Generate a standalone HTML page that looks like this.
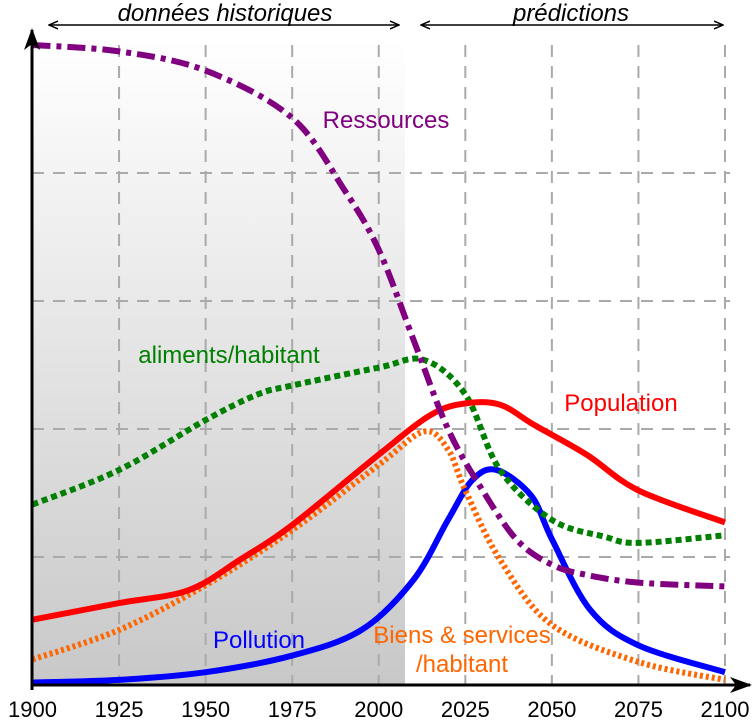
<!DOCTYPE html>
<html><head><meta charset="utf-8"><style>
html,body{margin:0;padding:0;background:#fff}
svg{display:block;font-family:"Liberation Sans",sans-serif}
</style></head><body>
<svg id="chart" width="754" height="723" viewBox="0 0 754 723">
<defs>
<linearGradient id="hist" x1="0" y1="0" x2="0" y2="1">
<stop offset="0" stop-color="#fff"/><stop offset="1" stop-color="#c8c8c8"/>
</linearGradient>
<marker id="ah" markerWidth="10" markerHeight="10" refX="8" refY="5" orient="auto-start-reverse" markerUnits="userSpaceOnUse">
<path d="M0,1 L9,5 L0,9" fill="none" stroke="#000" stroke-width="1.5"/></marker>
<marker id="axh" markerWidth="24" markerHeight="20" refX="20" refY="10" orient="auto" markerUnits="userSpaceOnUse">
<path d="M0,2 L22,10 L0,18 L6,10 Z" fill="#000"/></marker>
</defs>
<rect x="32" y="40" width="373" height="645" fill="url(#hist)"/>
<g id="grid"></g>
<g id="series"></g>
<line x1="32" y1="685" x2="750" y2="685" stroke="#000" stroke-width="3" marker-end="url(#axh)"/>
<line x1="32" y1="690" x2="32" y2="30" stroke="#000" stroke-width="3" marker-end="url(#axh)"/>
<g id="ticks" font-size="22" text-anchor="middle"></g>
<line x1="50" y1="25" x2="398" y2="25" stroke="#000" stroke-width="1.5" marker-start="url(#ah)" marker-end="url(#ah)"/>
<line x1="422" y1="25" x2="722" y2="25" stroke="#000" stroke-width="1.5" marker-start="url(#ah)" marker-end="url(#ah)"/>
<text x="225" y="21" font-size="24" font-style="italic" text-anchor="middle">données historiques</text>
<text x="571" y="21" font-size="24" font-style="italic" text-anchor="middle">prédictions</text>
<text x="386" y="128" font-size="24" fill="#800080" text-anchor="middle">Ressources</text>
<text x="229" y="363" font-size="24" fill="#008000" text-anchor="middle">aliments/habitant</text>
<text x="621" y="411" font-size="24" fill="#ff0000" text-anchor="middle">Population</text>
<text x="259" y="648" font-size="24" fill="#0000ff" text-anchor="middle">Pollution</text>
<text x="462" y="643" font-size="24" fill="#ff6600" text-anchor="middle">Biens &amp; services</text>
<text x="462" y="672" font-size="24" fill="#ff6600" text-anchor="middle">/habitant</text>
</svg>
<script>
const years=[1900,1925,1950,1975,2000,2025,2050,2075,2100];
const resYears=[1900,1925,1950,1975,1990,2000,2010,2020,2030,2040,2050,2060,2075,2100];
const resVals=[5.0,4.95,4.8,4.43,3.87,3.4,2.7,2.0,1.52,1.13,0.94,0.86,0.8,0.77];
const foodYears=[1900,1925,1950,1965,1975,2000,2013,2025,2035,2050,2065,2075,2100];
const foodVals=[1.41,1.68,2.07,2.27,2.34,2.48,2.54,2.27,1.68,1.29,1.16,1.11,1.17];
const popYears=[1900,1925,1945,1960,1975,2000,2015,2025,2035,2045,2060,2075,2100];
const popVals=[0.51,0.64,0.74,0.98,1.25,1.8,2.11,2.2,2.19,2.03,1.8,1.52,1.27];
const goodsYears=[1900,1925,1950,1975,2000,2013,2020,2025,2035,2050,2075,2100];
const goodsVals=[0.2,0.43,0.78,1.21,1.72,1.98,1.84,1.52,0.98,0.47,0.18,0.04];
const polYears=[1900,1925,1950,1975,1995,2010,2020,2027,2034,2044,2050,2061,2075,2100];
const polVals=[0.02,0.04,0.1,0.23,0.43,0.82,1.29,1.6,1.68,1.48,1.14,0.59,0.31,0.1];
const gridVals=[1,2,3,4];
const NS="http://www.w3.org/2000/svg";
const X=y=>32.5+(y-1900)*(692.5/200);
const Y=v=>685-v*128;
const grid=document.getElementById('grid');
gridVals.forEach(v=>{const l=document.createElementNS(NS,'line');
l.setAttribute('x1',32);l.setAttribute('x2',730);l.setAttribute('y1',Y(v));l.setAttribute('y2',Y(v));
l.setAttribute('stroke','#aaa');l.setAttribute('stroke-width',2);l.setAttribute('stroke-dasharray','12,9');


grid.appendChild(l);});
const ticks=document.getElementById('ticks');
years.forEach((yr,i)=>{
 if(i>0){const l=document.createElementNS(NS,'line');
 l.setAttribute('x1',X(yr));l.setAttribute('x2',X(yr));l.setAttribute('y1',45);l.setAttribute('y2',685);
 l.setAttribute('stroke','#aaa');l.setAttribute('stroke-width',2);l.setAttribute('stroke-dasharray','12,9');
 
 
 grid.appendChild(l);}
 const t=document.createElementNS(NS,'text');t.setAttribute('x',X(yr));t.setAttribute('y',717);t.textContent=yr;
 
 
 ticks.appendChild(t);});
function path(xs,vs){const p=xs.map((x,i)=>[X(x),Y(vs[i])]);let d='M'+p[0][0]+','+p[0][1];
 for(let i=0;i<p.length-1;i++){const p0=p[Math.max(0,i-1)],p1=p[i],p2=p[i+1],p3=p[Math.min(p.length-1,i+2)];
 const c1=[p1[0]+(p2[0]-p0[0])/6,p1[1]+(p2[1]-p0[1])/6],c2=[p2[0]-(p3[0]-p1[0])/6,p2[1]-(p3[1]-p1[1])/6];
 d+=` C${c1[0]},${c1[1]} ${c2[0]},${c2[1]} ${p2[0]},${p2[1]}`;}return d;}
const ser=document.getElementById('series');
function add(xs,vs,col,dash,name){const e=document.createElementNS(NS,'path');e.setAttribute('d',path(xs,vs));
 e.setAttribute('fill','none');e.setAttribute('stroke',col);e.setAttribute('stroke-width',6);
 if(dash)e.setAttribute('stroke-dasharray',dash);
 
 
 ser.appendChild(e);}
add(polYears,polVals,'#0000ff',null,'pollution-line');
add(goodsYears,goodsVals,'#ff6600','3,3','goods-line');
add(foodYears,foodVals,'#008000','6,4','food-line');
add(popYears,popVals,'#ff0000',null,'population-line');
add(resYears,resVals,'#800080','18,6,5,6','resources-line');
</script>
</body></html>
